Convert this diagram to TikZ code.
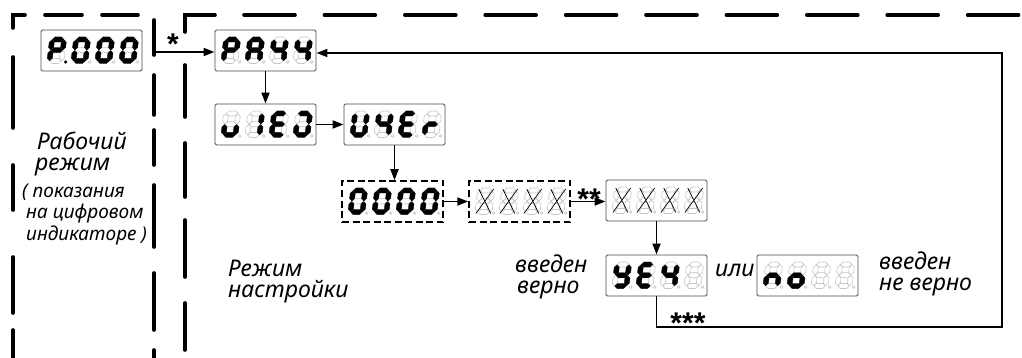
\documentclass[tikz,border=0pt]{standalone}
\usepackage{fontspec}
\setmainfont{Liberation Sans}
\newfontfamily\capfont{Noto Sans}
\usetikzlibrary{arrows.meta}

% Seven-segment digit: segment outlines in local units (pt), y pointing up
\newcommand\sga[1]{\path[#1] (0.3,21.5)--(2.8,24)--(9.2,24)--(11.7,21.5)--(9.2,19)--(2.8,19)--cycle;}
\newcommand\sgg[1]{\path[#1] (0.3,10.75)--(2.8,13.25)--(9.2,13.25)--(11.7,10.75)--(9.2,8.25)--(2.8,8.25)--cycle;}
\newcommand\sgd[1]{\path[#1] (0.3,0)--(2.8,2.5)--(9.2,2.5)--(11.7,0)--(9.2,-2.5)--(2.8,-2.5)--cycle;}
\newcommand\sgf[1]{\path[#1] (0,11.05)--(2.5,13.55)--(2.5,18.7)--(0,21.2)--(-2.5,18.7)--(-2.5,13.55)--cycle;}
\newcommand\sgb[1]{\path[#1] (12,11.05)--(14.5,13.55)--(14.5,18.7)--(12,21.2)--(9.5,18.7)--(9.5,13.55)--cycle;}
\newcommand\sge[1]{\path[#1] (0,0.3)--(2.5,2.8)--(2.5,7.95)--(0,10.45)--(-2.5,7.95)--(-2.5,2.8)--cycle;}
\newcommand\sgc[1]{\path[#1] (12,0.3)--(14.5,2.8)--(14.5,7.95)--(12,10.45)--(9.5,7.95)--(9.5,2.8)--cycle;}
\newcommand\sgp[1]{\path[#1] (16.3,-1) circle (1.4pt);}
\newcommand\sgz[1]{}
% crossed-out digit
\newcommand\xmark{\draw[xmk] (-1.5,23)--(13.5,-1.5) (13.5,23)--(-1.5,-1.5);}

% one digit: #1,#2 origin (bottom-left), #3 lit segments, #4 extra drawing
\newcommand\sdig[4]{%
  \begin{scope}[shift={(#1,#2)}, x=1pt, y=1pt, xslant=0.12]
    \foreach \s in {a,b,c,d,e,f,g}{\csname sg\s\endcsname{segoff}}
    \sgp{dpoff}
    \foreach \s in {#3}{\csname sg\s\endcsname{segon}}
    #4
  \end{scope}}

% four-digit indicator: #1 name, #2 left, #3 top, #4 frame style, #5 extra, #6-#9 digits
\newcommand\disp[9]{%
  \node[#4] (#1) at (#2+50.5,#3+20.5) {};
  \sdig{#2+8.5}{#3+31}{#6}{#5}
  \sdig{#2+32.5}{#3+31}{#7}{#5}
  \sdig{#2+56.5}{#3+31}{#8}{#5}
  \sdig{#2+80.5}{#3+31}{#9}{#5}}

\tikzset{
  segoff/.style={draw=black!22, fill=white, line width=0.6pt},
  segon/.style={fill=black, draw=black, line width=0.3pt},
  dpoff/.style={draw=black!25, fill=white, line width=0.5pt},
  xmk/.style={line width=0.7pt, draw=black},
  dispbox/.style={draw=black!70, line width=0.9pt, rounded corners=1.5pt,
    minimum width=101pt, minimum height=41pt, inner sep=0pt, fill=white},
  dispdash/.style={draw=black, line width=1.5pt, dash pattern=on 7pt off 3.5pt,
    minimum width=101pt, minimum height=41pt, inner sep=0pt},
  conn/.style={line width=1.8pt, -{Triangle[length=11pt,width=8pt]}},
  region/.style={line width=3.6pt, line cap=round},
  lbl/.style={anchor=base west, inner sep=0pt, align=left,
    font=\capfont\itshape\fontsize{23}{21}\selectfont},
  lblsmall/.style={anchor=base west, inner sep=0pt, align=left,
    font=\capfont\itshape\fontsize{19}{21.5}\selectfont},
  star/.style={anchor=base, inner sep=0pt, font=\bfseries\fontsize{30}{30}\selectfont},
}

\begin{document}
\begin{tikzpicture}[x=1pt, y=-1pt]
\useasboundingbox (0,0) rectangle (1022,358);

% operating-mode area
\draw[region] (13,28) -- (13,15) -- (25,15);
\draw[region] (45,15) -- (82,15) (102,15) -- (138,15);
\draw[region] (13,57) -- (13,128) (13,165) -- (13,210) (13,257) -- (13,313) (13,330) -- (13,362);
\draw[region] (154,20) -- (154,55) (154,75) -- (154,115) (154,130) -- (154,165)
  (154,185) -- (154,247) (154,273) -- (154,330) (154,350) -- (154,362);

% setup-mode area
\draw[region] (185,32) -- (185,15) -- (215,15);
\draw[region] (185,65) -- (185,117) (185,143) -- (185,197) (185,220) -- (185,277) (185,303) -- (185,350);
\draw[region, dash pattern=on 51pt off 29.4pt] (244,15) -- (1030,15);

% indicators
\disp{run}{41}{30}{dispbox}{}{a,b,e,f,g,p}{a,b,c,d,e,f}{a,b,c,d,e,f}{a,b,c,d,e,f}
\disp{pass}{215}{30}{dispbox}{}{a,b,e,f,g}{a,b,c,e,f,g}{b,c,f,g}{b,c,f,g}
\disp{view}{215}{104}{dispbox}{}{c,d,e}{b,c}{a,d,e,f,g}{a,b,c,d,e}
\disp{user}{344}{104}{dispbox}{}{b,c,d,e,f}{b,c,f,g}{a,d,e,f,g}{e,g}
\disp{code}{342}{181}{dispdash}{}{a,b,c,d,e,f}{a,b,c,d,e,f}{a,b,c,d,e,f}{a,b,c,d,e,f}
\disp{xd}{469}{181}{dispdash}{\xmark}{z}{z}{z}{z}
\disp{xs}{606}{180}{dispbox}{\xmark}{z}{z}{z}{z}
\disp{yes}{606}{255}{dispbox}{}{b,c,d,f,g}{a,d,e,f,g}{b,c,f,g}{z}
\disp{no}{757}{255}{dispbox}{}{c,e,g}{c,d,e,g}{z}{z}

% transitions
\coordinate (s1) at (154,52);
\coordinate (r1) at (1002,327);
\coordinate (r2) at (1002,53);
\draw[conn] (s1) -- (s1 -| pass.west);
\draw[conn] (pass.south) -- (view.north);
\draw[conn] (view.east) -- (user.west);
\draw[conn] (user.south) -- (user.south |- code.north);
\draw[conn] (code.east) -- (xd.west);
\draw[conn] (xd.east) -- (xd.east -| xs.west);
\draw[conn] (xs.south) -- (yes.north);
\draw[conn] (yes.south) |- (r1) -- (r2) -- (r2 -| pass.east);

\node[star] (k1) at (173,55) {*};
\node[star] (k2) at (589,210) {**};
\node[star] (k3) at (688,333) {***};

% captions (anchored at the baseline of their last line)
\node[lbl] (t1) at (35,171) {\hspace*{2pt}Рабочий\\режим};
\node[lblsmall] (t2) at (22,240) {( показания\\\hspace*{4pt}на цифровом\\\hspace*{4pt}индикаторе )};
\node[lbl] (t3) at (228,297) {Режим\\настройки};
\node[lbl] (t4) at (515,293) {введен\\\hspace*{2pt}верно};
\node[lbl] (t5) at (715,276) {или};
\node[lbl] (t6) at (879,290) {введен\\не верно};
\end{tikzpicture}
\end{document}
